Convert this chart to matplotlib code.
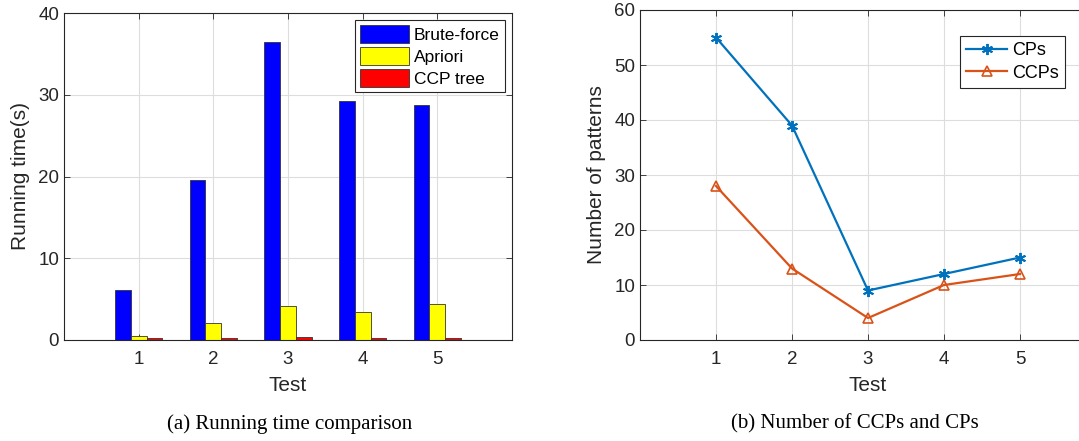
import matplotlib.pyplot as plt
import numpy as np

# dados
tests = [1, 2, 3, 4, 5]
brute_force = [6.1, 19.6, 36.5, 29.2, 28.7]
apriori = [0.5, 2.1, 4.1, 3.4, 4.4]
ccp_tree = [0.2, 0.3, 0.4, 0.3, 0.3]

cps = [55, 39, 9, 12, 15]
ccps = [28, 13, 4, 10, 12]

plt.rcParams['font.family'] = ['Liberation Sans', 'DejaVu Sans']

fig = plt.figure(figsize=(10.79, 4.41), dpi=100)

# estilo parecido com o do MATLAB
def matlabStyle(ax):
    for s in ax.spines.values():
        s.set_color('#262626')
        s.set_linewidth(0.8)
    ax.tick_params(direction='in', top=True, right=True, labelsize=13.5,
                   colors='#262626', length=4, width=0.6)
    ax.tick_params(axis='x', pad=8)
    ax.grid(True, color='#dddddd', linewidth=0.8)
    ax.set_axisbelow(True)

# grafico (a)
ax1 = fig.add_axes([64 / 1079, 1 - 340 / 441, 448 / 1079, 327 / 441])
x = np.array(tests)
w = 0.21
ax1.bar(x - w, brute_force, w, color='#0000ff', edgecolor='#333333', linewidth=0.6, label='Brute-force')
ax1.bar(x, apriori, w, color='#ffff00', edgecolor='#333333', linewidth=0.6, label='Apriori')
ax1.bar(x + w, ccp_tree, w, color='#ff0000', edgecolor='#333333', linewidth=0.6, label='CCP tree')
ax1.set_xlim(0, 6)
ax1.set_ylim(0, 40)
ax1.set_xticks(tests)
ax1.set_yticks([0, 10, 20, 30, 40])
matlabStyle(ax1)
ax1.set_xlabel('Test', fontsize=15, color='#262626', labelpad=6)
ax1.set_ylabel('Running time(s)', fontsize=15, color='#262626', labelpad=6)
leg1 = ax1.legend(loc='upper right', fontsize=12.5, fancybox=False, framealpha=1,
                  edgecolor='#262626', handlelength=2.8, handleheight=1.2,
                  borderpad=0.3, labelspacing=0.25, handletextpad=0.3,
                  borderaxespad=0.4)
leg1.get_frame().set_linewidth(0.8)

# grafico (b)
ax2 = fig.add_axes([640 / 1079, 1 - 340 / 441, 456 / 1079, 330 / 441])
ax2.plot(tests, cps, color='#0072BD', linewidth=1.6, marker=(6, 2, 0), markersize=8,
         markeredgewidth=1.4, label='CPs')
ax2.plot(tests, ccps, color='#D95319', linewidth=1.6, marker='^', markersize=7,
         markerfacecolor='none', markeredgewidth=1.2, label='CCPs')
ax2.set_xlim(0, 6)
ax2.set_ylim(0, 60)
ax2.set_xticks(tests)
ax2.set_yticks([0, 10, 20, 30, 40, 50, 60])
matlabStyle(ax2)
ax2.set_xlabel('Test', fontsize=15, color='#262626', labelpad=6)
ax2.set_ylabel('Number of patterns', fontsize=15, color='#262626', labelpad=6)
leg2 = ax2.legend(loc='upper right', bbox_to_anchor=(1065 / 1079, 1 - 36 / 441),
                  bbox_transform=fig.transFigure, fontsize=13, fancybox=False, framealpha=1,
                  edgecolor='#262626', handlelength=2.3, borderpad=0.35,
                  labelspacing=0.3, handletextpad=0.25, borderaxespad=0)
leg2.get_frame().set_linewidth(0.8)

# legendas das figuras
fig.text(290 / 1079, 1 - 424 / 441, '(a) Running time comparison', ha='center', va='center',
         fontsize=15, family=['Liberation Serif', 'DejaVu Serif'])
fig.text(855 / 1079, 1 - 424 / 441, '(b) Number of CCPs and CPs', ha='center', va='center',
         fontsize=15, family=['Liberation Serif', 'DejaVu Serif'])

fig.savefig('out.png', dpi=100)
